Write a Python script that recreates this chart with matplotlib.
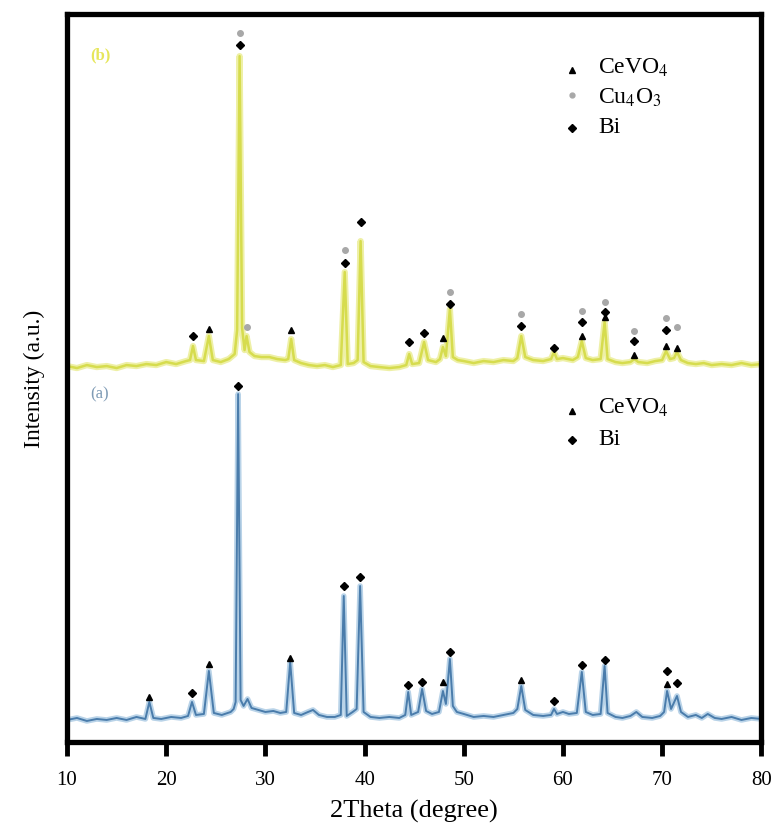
import numpy as np
import matplotlib.pyplot as plt

plt.rcParams['font.family'] = ['Liberation Serif', 'DejaVu Serif']
plt.rcParams['mathtext.fontset'] = 'stix'

# pattern (a): CeVO4/Bi (arbitrary units)
tt_a = [10, 11, 12, 13, 14, 15, 16, 17, 17.9, 18.3, 18.7, 19.5, 20.5, 21.5, 22.2, 22.6,
        23.0, 23.8, 24.3, 24.8, 25.6, 26.5, 26.8, 27.0, 27.25, 27.5, 27.8, 28.2, 28.6,
        29.3, 30, 30.8, 31.5, 32.1, 32.5, 32.9, 33.6, 34.3, 34.8, 35.4, 36.2, 37.0, 37.6,
        37.9, 38.2, 38.8, 39.2, 39.55, 39.9, 40.6, 41.5, 42.5, 43.5, 44.1, 44.4, 44.7,
        45.4, 45.8, 46.2, 46.8, 47.5, 47.9, 48.2, 48.6, 48.9, 49.3, 50, 51, 52, 53, 54,
        55, 55.4, 55.8, 56.2, 57, 58, 58.8, 59.1, 59.4, 60, 60.6, 61.4, 61.9, 62.3, 63,
        63.8, 64.2, 64.5, 65.3, 66, 66.8, 67.4, 68, 69, 69.8, 70.2, 70.5, 70.9, 71.5,
        71.9, 72.6, 73.4, 74, 74.6, 75.3, 76, 77, 78, 79, 80]
int_a = [22, 24, 21, 23, 22, 24, 22, 25, 23, 40, 24, 23, 25, 24, 26, 40,
         27, 28, 71, 29, 27, 30, 33, 40, 348, 42, 36, 43, 34,
         32, 30, 31, 29, 30, 80, 29, 27, 30, 32, 27, 25, 25, 27,
         146, 26, 30, 33, 156, 30, 25, 24, 25, 24, 27, 50, 27,
         30, 53, 31, 28, 30, 51, 38, 83, 36, 30, 28, 25, 26, 25, 27,
         29, 33, 56, 32, 27, 26, 27, 33, 28, 30, 28, 29, 70, 30, 27,
         28, 76, 29, 25, 24, 26, 30, 25, 24, 26, 30, 51, 33, 46,
         30, 25, 27, 24, 28, 24, 23, 25, 22, 24, 23]

# pattern (b): CeVO4/Cu4O3/Bi
tt_b = [10, 11, 12, 13, 14, 15, 16, 17, 18, 19, 20, 21, 22, 22.4, 22.7, 23.0, 23.8,
        24.3, 24.7, 25.5, 26.3, 26.9, 27.15, 27.4, 27.65, 27.9, 28.1, 28.4, 28.9, 29.6,
        30.4, 31.2, 32.0, 32.3, 32.6, 32.9, 33.6, 34.4, 35.2, 36.0, 36.8, 37.6, 38.0,
        38.3, 38.9, 39.3, 39.6, 39.9, 40.6, 41.5, 42.5, 43.5, 44.2, 44.5, 44.8, 45.5,
        46.0, 46.4, 47.2, 47.6, 47.9, 48.2, 48.6, 48.9, 49.4, 50, 51, 52, 53, 54, 55,
        55.4, 55.8, 56.2, 57, 58, 58.8, 59.1, 59.4, 60, 61, 61.5, 61.9, 62.3, 63, 63.8,
        64.2, 64.5, 65.3, 66, 66.8, 67.2, 67.6, 68.5, 69.3, 70.0, 70.4, 70.8, 71.2, 71.5,
        71.9, 72.6, 73.4, 74.2, 75, 76, 77, 78, 79, 80]
int_b = [24, 22, 25, 23, 24, 22, 25, 24, 26, 25, 28, 26, 29, 30, 44, 30, 29,
         54, 30, 28, 31, 36, 60, 334, 62, 40, 54, 38, 34, 33,
         33, 31, 30, 31, 51, 30, 27, 25, 24, 25, 23, 25, 118,
         26, 27, 30, 149, 28, 24, 23, 22, 23, 25, 36, 26, 27,
         48, 30, 28, 31, 43, 34, 81, 33, 30, 29, 27, 29, 28, 30, 29,
         32, 54, 33, 30, 29, 31, 38, 31, 32, 30, 33, 49, 32, 30, 31,
         68, 31, 28, 27, 28, 31, 28, 27, 29, 30, 39, 31, 32, 38,
         30, 27, 26, 27, 25, 26, 25, 27, 25, 26]
offset_b = 352

# peak labels: (2theta, marker height on the axis)
ce_a_x = [18.3, 24.3, 32.5, 47.9, 55.8, 70.5]
ce_a_y = [45, 78, 84, 60, 62, 58]
bi_a_x = [22.6, 27.25, 37.9, 39.55, 44.4, 45.8, 48.6, 59.1, 61.9, 64.2, 70.5, 71.5]
bi_a_y = [49, 356, 156, 165, 57, 60, 90, 41, 77, 82, 71, 59]

ce_b_x = [24.3, 32.6, 47.9, 61.9, 64.2, 67.2, 70.4, 71.5]
ce_b_y = [413, 412, 404, 406, 425, 387, 396, 394]
bi_b_x = [22.7, 27.4, 38.0, 39.6, 44.5, 46.0, 48.6, 55.8, 59.1, 61.9, 64.2, 67.2, 70.4]
bi_b_y = [406, 697, 479, 520, 400, 409, 438, 416, 394, 420, 430, 401, 412]
cu_b_x = [27.4, 28.1, 38.0, 48.6, 55.8, 61.9, 64.2, 67.2, 70.4, 71.5]
cu_b_y = [709, 415, 492, 450, 428, 431, 440, 411, 424, 415]

blue = '#4a7cab'
yellow = '#d6dc4e'

fig = plt.figure(figsize=(7.74, 8.28), dpi=100)
ax = fig.add_axes([0.0866, 0.1027, 0.897, 0.879])

ax.plot(tt_a, int_a, color='#b9d3e8', lw=4, solid_joinstyle='round', zorder=1)
ax.plot(tt_a, int_a, color=blue, lw=1.4, zorder=2)
ax.plot(tt_b, np.array(int_b) + offset_b, color='#eef0a6', lw=4.5, solid_joinstyle='round', zorder=1)
ax.plot(tt_b, np.array(int_b) + offset_b, color=yellow, lw=1.8, zorder=2)

ax.plot(ce_a_x, ce_a_y, '^', color='black', ms=5, ls='none', zorder=3)
ax.plot(bi_a_x, bi_a_y, 'D', color='black', ms=4.5, ls='none', zorder=3)
ax.plot(ce_b_x, ce_b_y, '^', color='black', ms=5, ls='none', zorder=3)
ax.plot(bi_b_x, bi_b_y, 'D', color='black', ms=4.5, ls='none', zorder=3)
ax.plot(cu_b_x, cu_b_y, 'o', color='#a8a8a8', ms=4, ls='none', zorder=3)

# in-plot phase keys
ax.plot([0.728], [0.923], '^', color='black', ms=4.5, transform=ax.transAxes)
ax.plot([0.728], [0.889], 'o', color='#a8a8a8', ms=3.5, transform=ax.transAxes)
ax.plot([0.728], [0.843], 'D', color='black', ms=4, transform=ax.transAxes)
ax.text(0.765, 0.928, 'CeVO$_4$', fontsize=17, transform=ax.transAxes, va='center')
ax.text(0.765, 0.886, 'Cu$_4$O$_3$', fontsize=17, transform=ax.transAxes, va='center')
ax.text(0.765, 0.845, 'Bi', fontsize=17, transform=ax.transAxes, va='center')

ax.plot([0.728], [0.455], '^', color='black', ms=4.5, transform=ax.transAxes)
ax.plot([0.728], [0.415], 'D', color='black', ms=4, transform=ax.transAxes)
ax.text(0.765, 0.460, 'CeVO$_4$', fontsize=17, transform=ax.transAxes, va='center')
ax.text(0.765, 0.417, 'Bi', fontsize=17, transform=ax.transAxes, va='center')

ax.text(0.033, 0.945, '(b)', fontsize=12, color='#e6e65a', transform=ax.transAxes,
        va='center', fontweight='bold')
ax.text(0.033, 0.479, '(a)', fontsize=12, color='#7f9bb5', transform=ax.transAxes,
        va='center')

ax.set_xlim(10, 80)
ax.set_ylim(0, 728)
ax.set_xticks(range(10, 81, 10))
ax.set_yticks([])
ax.tick_params(axis='x', direction='out', length=10, width=3.5, labelsize=15, pad=10)
for s in ax.spines.values():
    s.set_linewidth(3.8)
ax.set_xlabel('2Theta (degree)', fontsize=19, labelpad=7)
ax.set_ylabel('Intensity (a.u.)', fontsize=17, labelpad=16)

plt.savefig('out.png', dpi=100)
